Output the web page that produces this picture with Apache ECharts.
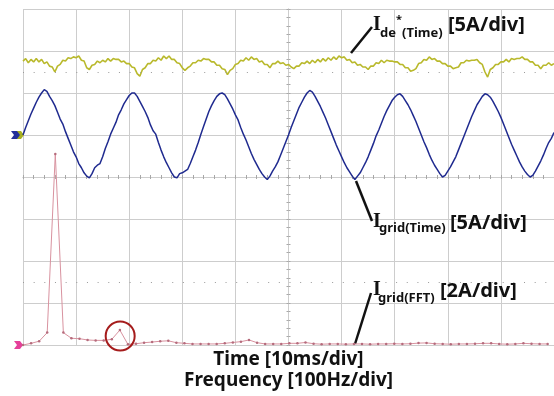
<!DOCTYPE html>
<html lang="en">
<head>
    <meta charset="UTF-8">
    <title>Grid current - time and FFT</title>
    <script src="https://cdn.jsdelivr.net/npm/echarts@6/dist/echarts.min.js"></script>
    <style>
        body {
            margin: 0;
            padding: 0;
            background-color: #ffffff;
        }
        #chart {
            width: 554px;
            height: 396px;
        }
    </style>
</head>
<body>
    <div id="chart"></div>

    <script>
        // time traces: one sample every 0.5 ms (10 ms/div, 10 div)
        const timeStepMs = 0.5;

        // I_grid(Time) [A]
        const gridCurrent = [
            0.0, 0.9, 1.7, 2.5, 3.2, 3.9, 4.5, 5.0, 5.4, 5.2, 4.6, 4.1, 3.5, 2.7, 1.9, 1.3, 0.4, -0.4, -1.2, -2.0,
            -2.6, -3.4, -3.9, -4.5, -4.9, -5.1, -4.6, -3.9, -3.6, -3.4, -2.6, -1.6, -0.8,
            0.1, 0.8, 1.5, 2.4, 3.0, 3.7, 4.2, 4.7, 5.0, 5.0, 4.6, 4.0, 3.4, 2.8, 2.1, 1.2, 0.5, 0.1, -0.9, -1.8,
            -2.6, -3.3, -3.9, -4.5, -5.0, -5.1, -4.6, -4.5, -4.3, -4.1, -3.4, -2.6, -1.8,
            -0.9, 0.1, 1.0, 1.9, 2.8, 3.5, 4.1, 4.6, 4.9, 5.0, 4.8, 4.3, 3.7, 3.1, 2.4, 1.8, 0.9, 0.1, -0.6, -1.4,
            -2.2, -2.9, -3.5, -4.1, -4.6, -5.0, -5.3, -4.9, -4.3, -3.8, -3.2, -2.4, -1.6, -0.8,
            0.0, 0.9, 1.7, 2.5, 3.3, 3.9, 4.5, 5.0, 5.3, 5.1, 4.6, 4.0, 3.4, 2.7, 2.0, 1.2, 0.4, -0.4, -1.2, -1.9,
            -2.6, -3.3, -3.9, -4.4, -4.9, -5.3, -4.9, -4.5, -3.9, -3.3, -2.6, -1.8, -1.0,
            -0.1, 0.6, 1.4, 2.2, 2.9, 3.5, 4.1, 4.5, 4.8, 4.9, 4.6, 4.1, 3.6, 3.0, 2.3, 1.6, 0.8, 0.0, -0.8, -1.5,
            -2.3, -3.0, -3.6, -4.1, -4.6, -5.0, -4.8, -4.3, -3.8, -3.2, -2.6, -1.8, -1.0,
            -0.2, 0.6, 1.4, 2.2, 2.9, 3.6, 4.1, 4.6, 4.9, 4.8, 4.5, 4.0, 3.4, 2.8, 2.1, 1.3, 0.5, -0.3, -1.1, -1.8,
            -2.5, -3.2, -3.8, -4.3, -4.7, -5.0, -4.8, -4.3, -3.7, -3.1, -2.4, -1.6, -0.9,
            -0.4, 0.3
        ];

        // I_de*(Time) [A]
        const dCurrentRef = [
            8.8, 9.1, 8.6, 9.0, 8.7, 9.1, 8.7, 9.0, 8.5, 8.7, 8.2, 8.1, 7.5, 8.2, 8.4, 8.9, 8.8, 9.2, 9.1, 9.3,
            9.2, 9.4, 8.9, 8.8, 8.0, 7.8, 8.3, 8.4, 8.8, 8.6, 8.9, 8.7, 9.1, 8.8, 9.1, 9.0, 9.0, 8.7, 8.8, 8.5,
            8.5, 8.1, 8.0, 7.3, 7.0, 7.8, 8.0, 8.5, 8.5, 8.9, 8.8, 9.2, 8.9, 9.4, 9.1, 9.4, 9.0, 9.0, 8.6, 8.5,
            8.0, 7.7, 8.0, 8.2, 8.6, 8.6, 8.9, 8.8, 9.1, 9.0, 9.0, 8.7, 8.7, 8.3, 8.3, 7.9, 7.8, 7.2, 7.7, 7.9,
            8.4, 8.5, 8.9, 8.8, 9.2, 8.9, 9.3, 9.0, 9.1, 8.7, 8.8, 8.4, 8.4, 8.0, 8.5, 8.5, 8.8, 8.5, 8.6, 8.3,
            8.4, 8.1, 7.9, 8.2, 8.2, 8.6, 8.5, 8.8, 8.5, 8.9, 8.6, 9.0, 8.7, 9.1, 8.8, 9.2, 8.9, 9.3, 9.0, 9.4,
            9.2, 9.3, 8.9, 9.0, 8.6, 8.7, 8.3, 8.4, 8.1, 8.1, 7.8, 8.2, 8.2, 8.6, 8.5, 8.9, 8.6, 8.9, 8.8, 8.8,
            8.7, 8.7, 8.4, 8.4, 8.0, 8.0, 7.6, 7.7, 7.9, 8.5, 8.6, 9.0, 8.9, 9.3, 9.0, 9.1, 8.8, 8.8, 8.5, 8.5,
            8.2, 8.2, 7.9, 8.0, 8.1, 8.6, 8.6, 8.9, 8.8, 8.9, 8.9, 9.0, 8.6, 8.4, 7.5, 6.9, 7.8, 8.0, 8.4, 8.4,
            8.7, 8.7, 9.0, 8.7, 9.1, 9.0, 9.1, 9.1, 9.3, 9.0, 9.0, 8.7, 8.7, 8.3, 8.3, 7.9, 8.3, 8.3, 8.6, 8.3,
            8.5
        ];

        // I_grid(FFT): one bin every 15.2 Hz (100 Hz/div) [A]
        const fftStepHz = 15.2;
        const fftAmps = [
            0.0, 0.08, 0.18, 0.59, 9.1, 0.59, 0.32, 0.30, 0.24, 0.22,
            0.22, 0.27, 0.71, 0.03, 0.06, 0.11, 0.14, 0.18, 0.20, 0.11,
            0.08, 0.05, 0.05, 0.05, 0.05, 0.08, 0.12, 0.16, 0.24, 0.11,
            0.05, 0.05, 0.05, 0.08, 0.08, 0.12, 0.06, 0.04, 0.05, 0.05,
            0.04, 0.05, 0.05, 0.04, 0.05, 0.05, 0.06, 0.05, 0.06, 0.09,
            0.10, 0.06, 0.05, 0.04, 0.05, 0.05, 0.06, 0.08, 0.08, 0.05,
            0.04, 0.05, 0.08, 0.06, 0.05, 0.05
        ];

        // circled 3rd harmonic [Hz, A]
        const circledHarmonic = [183, 0.43];

        const axisTitles = ['Time [10ms/div]', 'Frequency [100Hz/div]'];

        const gridColor = '#cdcdcd';
        const tickColor = '#a8a8a8';

        const chart = echarts.init(document.getElementById('chart'));

        // frame axes in divisions; centre lines carry the small ticks
        function divAxis(min, max, position, onZeroIndex, withSplit) {
            return {
                type: 'value',
                min: min,
                max: max,
                interval: 1,
                position: position,
                axisLine: { show: true, onZero: true, onZeroAxisIndex: onZeroIndex, lineStyle: { color: gridColor, width: 1 } },
                axisTick: { show: true, inside: true, length: 2, lineStyle: { color: tickColor } },
                minorTick: { show: true, splitNumber: 5, length: 2, lineStyle: { color: tickColor } },
                axisLabel: { show: false },
                splitLine: { show: withSplit, lineStyle: { color: gridColor, width: 1 } }
            };
        }

        const option = {
            animation: false,
            backgroundColor: '#ffffff',
            grid: { left: 23, top: 9, width: 533, height: 336, show: false },
            xAxis: [
                divAxis(-5, 5, 'bottom', 0, true),
                divAxis(-5, 5, 'top', 0, false),
                { type: 'value', min: 0, max: 100, show: false },
                { type: 'value', min: 0, max: 1000, show: false }
            ],
            yAxis: [
                divAxis(-4, 4, 'left', 0, true),
                divAxis(-4, 4, 'right', 0, false),
                { type: 'value', min: -25, max: 15, show: false },   // 5 A/div, zero one div above centre
                { type: 'value', min: 0, max: 16, show: false }      // 2 A/div, zero on bottom line
            ],
            series: [
                {
                    name: 'frame',
                    type: 'line',
                    xAxisIndex: 0,
                    yAxisIndex: 0,
                    data: [],
                    markLine: {
                        silent: true,
                        symbol: 'none',
                        label: { show: false },
                        lineStyle: { color: '#9a9a9a', width: 1, type: [1, 9.66] },
                        data: [{ yAxis: 2.5 }, { yAxis: -2.5 }]
                    }
                },
                {
                    name: 'Igrid(FFT)',
                    type: 'line',
                    xAxisIndex: 3,
                    yAxisIndex: 3,
                    data: fftAmps.map((a, i) => [i * fftStepHz, a]),
                    symbol: 'circle',
                    symbolSize: 2.5,
                    showAllSymbol: true,
                    itemStyle: { color: '#b56b7c' },
                    lineStyle: { color: '#d8929f', width: 1 },
                    markPoint: {
                        silent: true,
                        symbol: 'circle',
                        symbolSize: 29,
                        label: { show: false },
                        itemStyle: { color: 'rgba(0,0,0,0)', borderColor: '#a51c1c', borderWidth: 2 },
                        data: [{ coord: circledHarmonic }]
                    }
                },
                {
                    name: 'Ide*(Time)',
                    type: 'line',
                    xAxisIndex: 2,
                    yAxisIndex: 2,
                    data: dCurrentRef.map((v, i) => [i * timeStepMs, v]),
                    showSymbol: false,
                    lineStyle: { color: '#b9b92c', width: 1.6 }
                },
                {
                    name: 'Igrid(Time)',
                    type: 'line',
                    xAxisIndex: 2,
                    yAxisIndex: 2,
                    data: gridCurrent.map((v, i) => [i * timeStepMs, v]),
                    showSymbol: false,
                    lineStyle: { color: '#1f2a8f', width: 1.5 }
                }
            ]
        };
        chart.setOption(option);

        // channel markers on the left edge, placed at each channel's zero
        const zeroY = chart.convertToPixel({ yAxisIndex: 2 }, 0);
        const fftZeroY = chart.convertToPixel({ yAxisIndex: 3 }, 0);
        const leftX = chart.convertToPixel({ xAxisIndex: 2 }, 0);
        const midX = chart.convertToPixel({ xAxisIndex: 2 }, 50);

        function marker(tipX, cy, color) {
            return {
                type: 'polygon',
                shape: { points: [[tipX - 9, cy - 4], [tipX - 3, cy - 4], [tipX, cy], [tipX - 3, cy + 4], [tipX - 9, cy + 4], [tipX - 6, cy]] },
                style: { fill: color }
            };
        }

        function text(str, x, y, font, align) {
            return {
                type: 'text',
                style: { text: str, x: x, y: y, font: font, fill: '#111111', textAlign: align || 'left', textVerticalAlign: 'middle' }
            };
        }

        function leader(x1, y1, x2, y2) {
            return {
                type: 'line',
                shape: { x1: x1, y1: y1, x2: x2, y2: y2 },
                style: { stroke: '#111111', lineWidth: 2.5 }
            };
        }

        const serifI = 'bold 20px "Liberation Serif"';
        const big = 'bold 20px "Noto Sans"';
        const sub = 'bold 13px "Noto Sans"';
        const title = 'bold 19px "Noto Sans"';

        chart.setOption({
            graphic: {
                elements: [
                    marker(leftX + 1, zeroY, '#a8b020'),
                    marker(leftX - 3, zeroY, '#232f9a'),
                    marker(leftX, fftZeroY, '#e5409a'),

                    leader(351, 53, 372, 27),
                    text('I', 373, 24.5, serifI),
                    text('de', 380, 33, sub),
                    text('*', 396, 20, 'bold 11px "Noto Sans"'),
                    text('(Time)', 402, 33, sub),
                    text('[5A/div]', 448, 25, big),

                    leader(356, 181, 372, 221),
                    text('I', 373, 221.5, serifI),
                    text('grid(Time)', 379, 228, sub),
                    text('[5A/div]', 450, 223.5, big),

                    leader(355, 344, 371, 293),
                    text('I', 373, 290, serifI),
                    text('grid(FFT)', 378, 298, sub),
                    text('[2A/div]', 440, 291.5, big),

                    text(axisTitles[0], midX, 360, title, 'center'),
                    text(axisTitles[1], midX, 381, title, 'center')
                ]
            }
        });
    </script>
</body>
</html>
